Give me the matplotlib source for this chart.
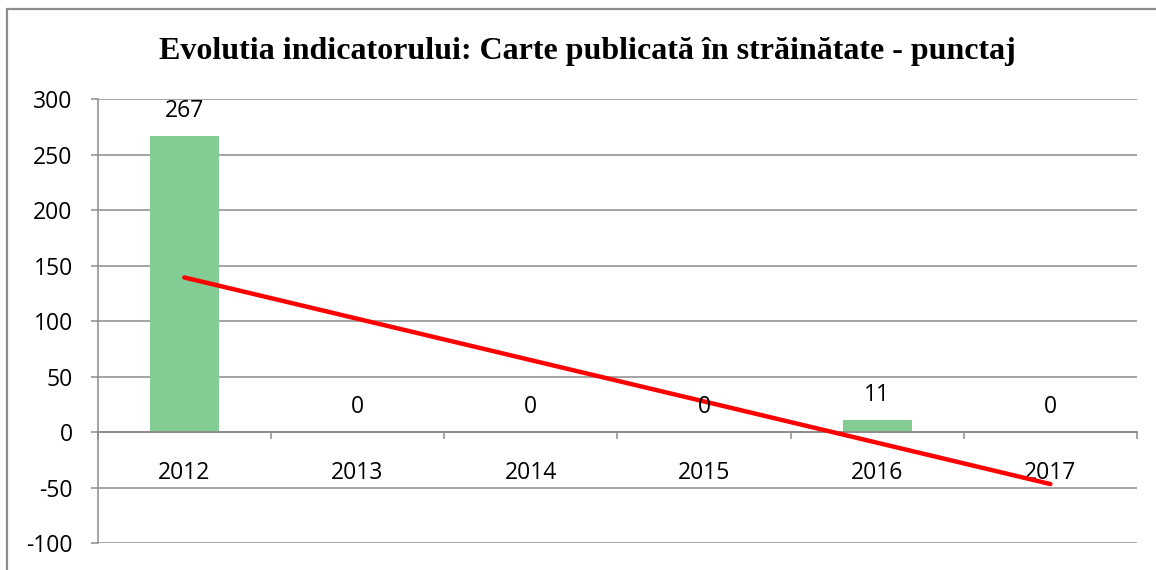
import numpy as np
import matplotlib.pyplot as plt
from matplotlib.patches import Rectangle

plt.rcParams['axes.unicode_minus'] = False

years = ['2012', '2013', '2014', '2015', '2016', '2017']
punctaj = [267, 0, 0, 0, 11, 0]
title = 'Evolutia indicatorului: Carte publicată în străinătate - punctaj'

W, H = 1156, 570
fig = plt.figure(figsize=(W / 100, H / 100), dpi=100)

# outer chart border (cut on right/bottom as in the original)
fig.patches.append(Rectangle((7 / W, -0.1), 1.2, 1.1 - 9 / H, transform=fig.transFigure,
                             fill=False, edgecolor='#8c8c8c', lw=1.6))

left, right, top, bottom = 97.7, 1137, 99, 543.3
ax = fig.add_axes([left / W, (H - bottom) / H, (right - left) / W, (bottom - top) / H])

x = np.arange(len(years))
ax.bar(x, punctaj, width=0.4, color='#83cc94', zorder=2)

# linear trend line
slope, icpt = np.polyfit(x, punctaj, 1)
ax.plot(x[[0, -1]], icpt + slope * x[[0, -1]], color='#ff0000', lw=3.2,
        solid_capstyle='round', zorder=3)

lab_font = {'family': 'Open Sans', 'size': 16.5}
for xi, v in zip(x, punctaj):
    ax.annotate(str(v), (xi, v), xytext=(0, 18), textcoords='offset points',
                ha='center', va='center', **lab_font)

ax.set_xlim(-0.5, 5.5)
ax.set_ylim(-100, 300)
ax.set_yticks(np.arange(-100, 301, 50))
ax.yaxis.grid(True, color='#8c8c8c', lw=1.1, zorder=0)
ax.set_axisbelow(True)

for s in ['top', 'right']:
    ax.spines[s].set_visible(False)
ax.spines['left'].set_color('#8c8c8c')
ax.spines['left'].set_linewidth(1.1)
ax.spines['bottom'].set_position(('data', 0))
ax.spines['bottom'].set_color('#8c8c8c')
ax.spines['bottom'].set_linewidth(1.3)

ax.set_xticks(x)
ax.set_xticklabels(years, fontdict=lab_font)
ax.set_xticks(np.arange(-0.5, 6, 1), minor=True)
ax.tick_params(axis='x', which='major', length=0, pad=21)
ax.tick_params(axis='x', which='minor', length=5, width=1.1, color='#8c8c8c', direction='out')
ax.tick_params(axis='y', length=5, width=1.1, color='#8c8c8c', pad=13)
for t in ax.get_yticklabels():
    t.set_fontfamily('Open Sans')
    t.set_fontsize(16.5)

fig.text(587 / W, 1 - 51 / H, title, ha='center', va='center',
         fontfamily='Liberation Serif', fontweight='bold', fontsize=23)

fig.savefig('out.png', dpi=100)
